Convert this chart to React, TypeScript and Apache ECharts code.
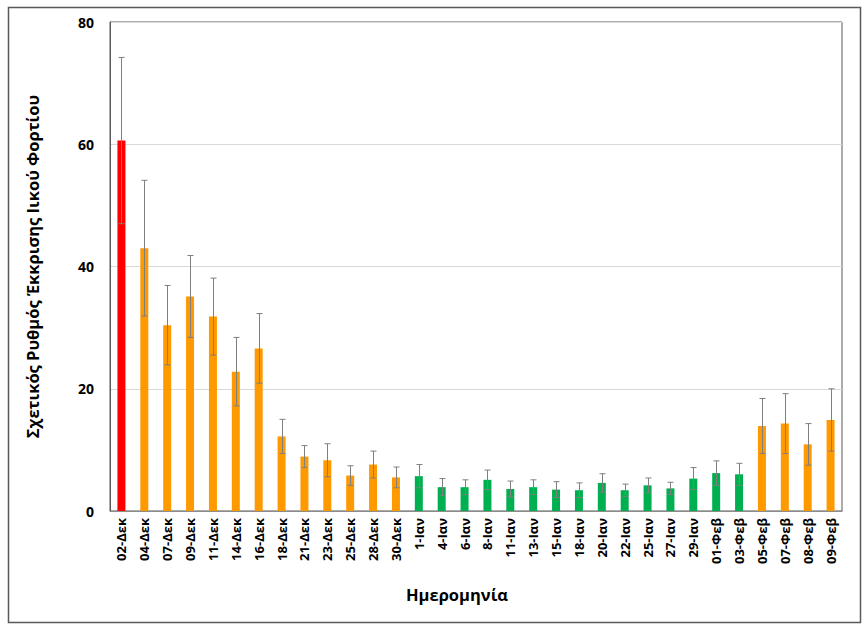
import React, { useEffect, useRef } from "react";
import * as echarts from "echarts";

const categories = [
  "02-Δεκ", "04-Δεκ", "07-Δεκ", "09-Δεκ", "11-Δεκ", "14-Δεκ", "16-Δεκ", "18-Δεκ",
  "21-Δεκ", "23-Δεκ", "25-Δεκ", "28-Δεκ", "30-Δεκ",
  "1-Ιαν", "4-Ιαν", "6-Ιαν", "8-Ιαν", "11-Ιαν", "13-Ιαν", "15-Ιαν", "18-Ιαν",
  "20-Ιαν", "22-Ιαν", "25-Ιαν", "27-Ιαν", "29-Ιαν",
  "01-Φεβ", "03-Φεβ", "05-Φεβ", "07-Φεβ", "08-Φεβ", "09-Φεβ",
];

const values = [
  60.6, 43.0, 30.4, 35.1, 31.8, 22.8, 26.6, 12.2, 8.9, 8.3, 5.8, 7.6, 5.5,
  5.7, 3.9, 3.9, 5.1, 3.6, 3.9, 3.5, 3.4, 4.6, 3.4, 4.2, 3.7, 5.3,
  6.2, 6.0, 13.9, 14.3, 10.9, 14.9,
];

const errors = [
  13.6, 11.1, 6.5, 6.7, 6.3, 5.6, 5.7, 2.8, 1.8, 2.7, 1.6, 2.2, 1.7,
  1.9, 1.4, 1.2, 1.6, 1.3, 1.2, 1.3, 1.2, 1.5, 1.0, 1.2, 1.0, 1.8,
  2.0, 1.8, 4.5, 4.9, 3.4, 5.1,
];

// level: 2 = red, 1 = orange, 0 = green
const levels = [
  2, 1, 1, 1, 1, 1, 1, 1, 1, 1, 1, 1, 1,
  0, 0, 0, 0, 0, 0, 0, 0, 0, 0, 0, 0, 0,
  0, 0, 1, 1, 1, 1,
];

const levelColors = ["#00B050", "#FF9900", "#FF0000"];
const yTicks = { min: 0, max: 80, interval: 20 };
const yTitle = "Σχετικός Ρυθμός Έκκρισης Ιικού Φορτίου";
const xTitle = "Ημερομηνία";

const FONT = "'Open Sans', 'Noto Sans', sans-serif";

export default function App() {
  const ref = useRef<HTMLDivElement>(null);
  useEffect(() => {
    document.body.style.margin = "0";
    if (!ref.current) return;
    const chart = echarts.init(ref.current, undefined, { renderer: "svg" });
    chart.setOption({
      animation: false,
      backgroundColor: "#ffffff",
      textStyle: { fontFamily: FONT },
      graphic: [
        {
          type: "rect",
          shape: { x: 8.5, y: 7.5, width: 852, height: 615 },
          style: { fill: "none", stroke: "#595959", lineWidth: 1.5 },
          z: -1,
        },
      ],
      grid: {
        left: 110,
        top: 22,
        right: 26,
        bottom: 121,
        show: true,
        borderColor: "#595959",
        borderWidth: 1,
      },
      xAxis: {
        type: "category",
        data: categories,
        name: xTitle,
        nameLocation: "middle",
        nameGap: 75,
        nameTextStyle: {
          fontSize: 16.5,
          fontWeight: "bold",
          color: "#000",
          fontFamily: FONT,
          padding: [0, 38, 0, 0],
        },
        axisTick: { show: false },
        axisLine: { show: true, lineStyle: { color: "#8c8c8c" } },
        axisLabel: {
          interval: 0,
          rotate: 90,
          fontSize: 13,
          fontWeight: "bold",
          color: "#000",
          margin: 7,
          fontFamily: FONT,
        },
      },
      yAxis: {
        type: "value",
        min: yTicks.min,
        max: yTicks.max,
        interval: yTicks.interval,
        name: yTitle,
        nameLocation: "middle",
        nameRotate: 90,
        nameGap: 69,
        nameTextStyle: { fontSize: 16.5, fontWeight: "bold", color: "#000", fontFamily: FONT },
        axisLine: { show: true, lineStyle: { color: "#595959" } },
        axisTick: { show: false },
        splitLine: { lineStyle: { color: "#d9d9d9" } },
        axisLabel: { fontSize: 14, fontWeight: "bold", color: "#000", margin: 16, fontFamily: FONT },
      },
      series: [
        {
          type: "bar",
          barWidth: 8,
          data: values.map((v, i) => ({ value: v, itemStyle: { color: levelColors[levels[i]] } })),
        },
        {
          type: "custom",
          z: 5,
          data: values.map((v, i) => [i, v - errors[i], v + errors[i]]),
          renderItem: (params: any, api: any) => {
            const idx = api.value(0);
            const lo = api.coord([idx, api.value(1)]);
            const hi = api.coord([idx, api.value(2)]);
            const x = Math.round(lo[0]) + 0.5;
            const cap = 3;
            const style = { stroke: "#7f7f7f", lineWidth: 1 };
            return {
              type: "group",
              children: [
                { type: "line", shape: { x1: x, y1: hi[1], x2: x, y2: lo[1] }, style },
                { type: "line", shape: { x1: x - cap, y1: hi[1], x2: x + cap, y2: hi[1] }, style },
                { type: "line", shape: { x1: x - cap, y1: lo[1], x2: x + cap, y2: lo[1] }, style },
              ],
            };
          },
        },
      ],
    });
    return () => chart.dispose();
  }, []);
  return <div ref={ref} style={{ width: 868, height: 632 }} />;
}
